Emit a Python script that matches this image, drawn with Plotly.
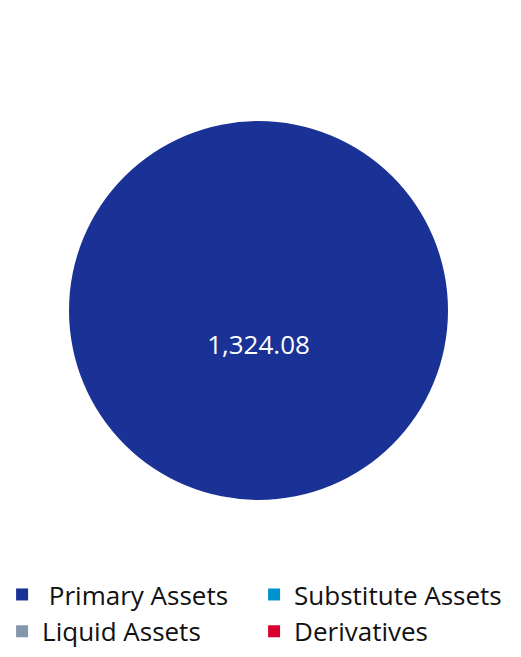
import plotly.graph_objects as go

labels = [" Primary Assets", "Substitute Assets", "Liquid Assets", "Derivatives"]
values = [1324.08, 0, 0, 0]
colors = ["#1a3296", "#0092d0", "#8497aa", "#d9002f"]

W, H = 521, 657
B = 110
PH = H - B
fig = go.Figure(go.Pie(
    labels=labels, values=values, sort=False, direction="clockwise",
    marker=dict(colors=colors),
    texttemplate="&nbsp;<br>&nbsp;<br>%{value:,.2f}", textinfo="value", textposition="inside",
    insidetextfont=dict(color="white", size=26, family="Open Sans"),
    domain=dict(x=[69/W, 448/W], y=[1-500/PH, 1-121/PH]),
    showlegend=True, hoverinfo="label+value",
))
fig.update_layout(
    width=W, height=H, margin=dict(l=0, r=0, t=0, b=B, autoexpand=False),
    paper_bgcolor="white",
    font=dict(family="Open Sans", color="#000000"),
    legend=dict(orientation="h", x=0.004, xanchor="left", y=-0.044, yanchor="top",
                font=dict(size=26, family="Open Sans", color="#111111"),
                entrywidth=207, entrywidthmode="pixels", tracegroupgap=0,
                traceorder="normal"),
)
fig.write_html("out.html", config={"displayModeBar": False},
               post_script="document.body.style.margin='0';")
